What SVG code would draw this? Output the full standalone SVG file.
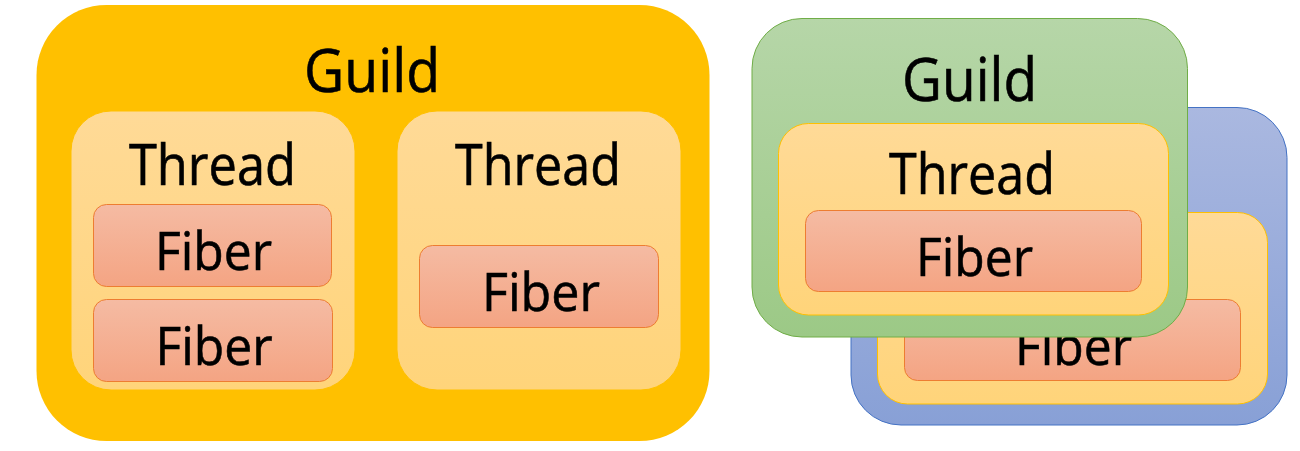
<svg xmlns="http://www.w3.org/2000/svg" width="1300" height="451" viewBox="0 0 1300 451">
<defs>
<linearGradient id="gThread" x1="0" y1="0" x2="0" y2="1"><stop offset="0" stop-color="#FFDA97"/><stop offset="1" stop-color="#FFD47A"/></linearGradient>
<linearGradient id="gFiber" x1="0" y1="0" x2="0" y2="1"><stop offset="0" stop-color="#F5BBA3"/><stop offset="1" stop-color="#F4A483"/></linearGradient>
<linearGradient id="gGreen" x1="0" y1="0" x2="0" y2="1"><stop offset="0" stop-color="#B6D6A8"/><stop offset="1" stop-color="#9CC986"/></linearGradient>
<linearGradient id="gBlue" x1="0" y1="0" x2="0" y2="1"><stop offset="0" stop-color="#AAB8E0"/><stop offset="1" stop-color="#88A0D6"/></linearGradient>
</defs>
<style>
text{font-family:"Open Sans","Noto Sans","Liberation Sans",sans-serif;fill:#000;stroke:#000;stroke-width:0.6;text-anchor:middle}
.guild{fill:#FFC000}
.thread{fill:url(#gThread);stroke:#FFC000;stroke-width:1}
.fiber{fill:url(#gFiber);stroke:#ED7D31;stroke-width:1}
.green{fill:url(#gGreen);stroke:#70AD47;stroke-width:1}
.blue{fill:url(#gBlue);stroke:#4472C4;stroke-width:1}
.tg{font-size:60px}
.tt{font-size:56px}
.tf{font-size:53px}
</style>
<rect width="1300" height="451" fill="#FFFFFF"/>
<g id="guild-left">
<rect class="guild" x="36.5" y="5" width="673" height="436" rx="70" ry="70"/>
<text class="tg" x="372" y="92" textLength="136" lengthAdjust="spacingAndGlyphs">Guild</text>
</g>
<g id="thread-left-1">
<rect class="thread" x="71" y="111" width="284" height="279" rx="40" ry="40" stroke="none"/>
<text class="tt" x="212.5" y="185" textLength="167" lengthAdjust="spacingAndGlyphs">Thread</text>
</g>
<g id="fiber-left-1">
<rect class="fiber" x="93.5" y="204.5" width="238" height="82" rx="13" ry="13"/>
<text class="tf" x="213.5" y="270" textLength="117" lengthAdjust="spacingAndGlyphs">Fiber</text>
</g>
<g id="fiber-left-2">
<rect class="fiber" x="93.5" y="299.5" width="239" height="82" rx="13" ry="13"/>
<text class="tf" x="214" y="365" textLength="117" lengthAdjust="spacingAndGlyphs">Fiber</text>
</g>
<g id="thread-left-2">
<rect class="thread" x="397" y="111" width="284" height="279" rx="40" ry="40" stroke="none"/>
<text class="tt" x="538" y="185" textLength="166" lengthAdjust="spacingAndGlyphs">Thread</text>
</g>
<g id="fiber-left-3">
<rect class="fiber" x="419.5" y="245.5" width="239" height="82" rx="13" ry="13"/>
<text class="tf" x="541" y="310.5" textLength="118" lengthAdjust="spacingAndGlyphs">Fiber</text>
</g>
<g id="guild-blue">
<rect class="blue" x="851" y="107.5" width="436" height="317.5" rx="50" ry="50"/>
</g>
<g id="thread-blue">
<rect class="thread" x="877.5" y="212.5" width="390" height="191.5" rx="30" ry="30"/>
</g>
<g id="fiber-blue">
<rect class="fiber" x="904.5" y="299.5" width="336" height="81" rx="13" ry="13"/>
<text class="tf" x="1073.5" y="365" textLength="117" lengthAdjust="spacingAndGlyphs">Fiber</text>
</g>
<g id="guild-green">
<rect class="green" x="752" y="18.5" width="435.5" height="318.5" rx="50" ry="50"/>
<text class="tg" x="969.5" y="100.5" textLength="135" lengthAdjust="spacingAndGlyphs">Guild</text>
</g>
<g id="thread-green">
<rect class="thread" x="778.5" y="123.5" width="390" height="191.5" rx="30" ry="30"/>
<text class="tt" x="972" y="193.5" textLength="166" lengthAdjust="spacingAndGlyphs">Thread</text>
</g>
<g id="fiber-green">
<rect class="fiber" x="805.5" y="210.5" width="336" height="81" rx="13" ry="13"/>
<text class="tf" x="974.5" y="276" textLength="117" lengthAdjust="spacingAndGlyphs">Fiber</text>
</g>
<g id="connectors"/>
</svg>
